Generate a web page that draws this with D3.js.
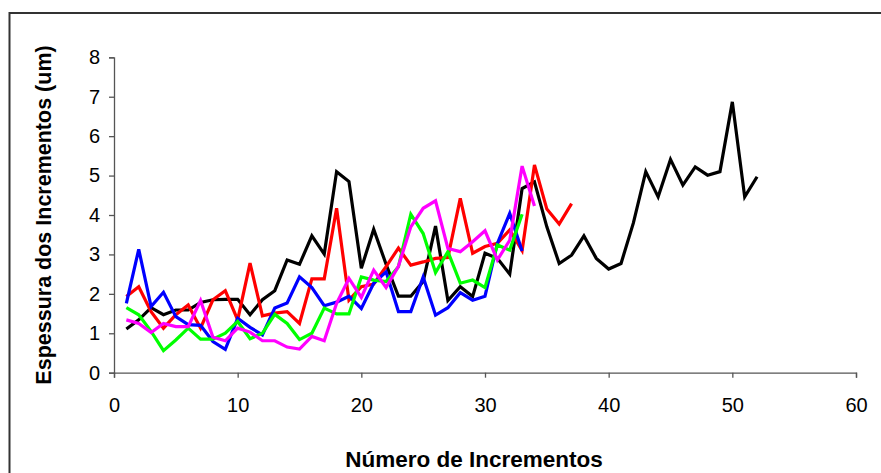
<!DOCTYPE html>
<html>
<head>
<meta charset="utf-8">
<script src="https://cdn.jsdelivr.net/npm/d3@7/dist/d3.min.js"></script>
<style>
  body { margin: 0; background: #fff; }
  svg { display: block; font-family: Arial, "Liberation Sans", sans-serif; }
</style>
</head>
<body>
<svg id="chart" width="881" height="473"></svg>
<script>
'use strict';

// thickness per increment, one array per series (increment 1..n)
var serieBlack = [1.11, 1.34, 1.65, 1.47, 1.59, 1.59, 1.78, 1.85, 1.86, 1.86,
    1.47, 1.85, 2.08, 2.86, 2.75, 3.47, 3.01, 5.10, 4.85, 2.65,
    3.64, 2.75, 1.94, 1.94, 2.31, 3.72, 1.83, 2.18, 1.93, 3.03,
    2.90, 2.50, 4.67, 4.84, 3.70, 2.77, 2.98, 3.47, 2.90, 2.63,
    2.77, 3.80, 5.10, 4.46, 5.41, 4.76, 5.22, 5.01, 5.10, 6.87,
    4.46, 4.97];
var serieRed = [1.93, 2.18, 1.55, 1.13, 1.47, 1.72, 1.13, 1.85, 2.08, 1.34,
    2.78, 1.44, 1.51, 1.55, 1.25, 2.38, 2.38, 4.17, 1.84, 2.18,
    2.25, 2.69, 3.16, 2.73, 2.81, 2.90, 2.92, 4.42, 3.03, 3.20,
    3.28, 3.62, 3.10, 5.27, 4.15, 3.77, 4.29];
var serieBlue = [1.76, 3.13, 1.68, 2.04, 1.42, 1.22, 1.20, 0.79, 0.59, 1.38,
    1.15, 0.96, 1.64, 1.77, 2.43, 2.16, 1.70, 1.79, 1.94, 1.63,
    2.27, 2.56, 1.55, 1.55, 2.43, 1.46, 1.65, 2.03, 1.84, 1.94,
    3.28, 4.04, 3.09];
var serieGreen = [1.65, 1.47, 1.05, 0.56, 0.83, 1.13, 0.85, 0.85, 1.00, 1.30,
    0.86, 1.00, 1.48, 1.25, 0.84, 1.00, 1.64, 1.49, 1.49, 2.43,
    2.35, 2.31, 2.69, 4.02, 3.53, 2.54, 3.07, 2.27, 2.35, 2.16,
    3.24, 3.11, 4.02];
var serieMagenta = [1.34, 1.25, 1.02, 1.25, 1.17, 1.17, 1.83, 0.90, 0.81, 1.13,
    1.03, 0.81, 0.81, 0.65, 0.60, 0.92, 0.81, 1.76, 2.39, 1.91,
    2.60, 2.16, 2.70, 3.70, 4.17, 4.36, 3.15, 3.07, 3.32, 3.60,
    2.86, 3.36, 5.24, 4.23];

var xTicks = [0, 10, 20, 30, 40, 50, 60];
var yTicks = [0, 1, 2, 3, 4, 5, 6, 7, 8];

var series = [
    {values: serieBlack, color: '#000000'},
    {values: serieRed, color: '#ff0000'},
    {values: serieBlue, color: '#0000ff'},
    {values: serieGreen, color: '#00ff00'},
    {values: serieMagenta, color: '#ff00ff'}
];

var svg = d3.select('#chart');

// outer chart frame
svg.append('rect')
    .attr('x', 9.5).attr('y', 13)
    .attr('width', 890).attr('height', 480)
    .attr('fill', 'none')
    .attr('stroke', '#333')
    .attr('stroke-width', 2);

var x = d3.scaleLinear().domain([0, 60]).range([114, 856]);
var y = d3.scaleLinear().domain([0, 8]).range([372.7, 57.3]);

var xAxis = svg.append('g')
    .attr('transform', 'translate(0,' + y(0) + ')')
    .call(d3.axisBottom(x).tickValues(xTicks).tickSizeOuter(0).tickSize(5).tickPadding(20));

var yAxis = svg.append('g')
    .attr('transform', 'translate(' + x(0) + ',0)')
    .call(d3.axisLeft(y).tickValues(yTicks).tickSizeOuter(0).tickSize(5).tickPadding(9));

[xAxis, yAxis].forEach(function(ax) {
    ax.select('.domain').attr('stroke', '#555').attr('stroke-width', 1.3);
    ax.selectAll('.tick line').attr('stroke', '#555').attr('stroke-width', 1.3);
    ax.selectAll('.tick text')
      .attr('fill', '#000')
      .style('font-size', '20px')
      .style('font-family', 'Arial, "Liberation Sans", sans-serif');
});

var line = d3.line()
    .x(function(d, i) { return x(i + 1); })
    .y(function(d) { return y(d); });

svg.append('g').selectAll('path')
    .data(series)
    .join('path')
    .attr('d', function(s) { return line(s.values); })
    .attr('fill', 'none')
    .attr('stroke', function(s) { return s.color; })
    .attr('stroke-width', 3.2)
    .attr('stroke-linejoin', 'miter')
    .attr('stroke-miterlimit', 4);

svg.append('text')
    .attr('x', 474).attr('y', 467)
    .attr('text-anchor', 'middle')
    .style('font-size', '22.5px')
    .style('font-weight', 'bold')
    .text('Número de Incrementos');

svg.append('text')
    .attr('transform', 'translate(51,215) rotate(-90)')
    .attr('text-anchor', 'middle')
    .style('font-size', '21.5px')
    .style('font-weight', 'bold')
    .text('Espessura dos Incrementos (um)');
</script>
</body>
</html>
